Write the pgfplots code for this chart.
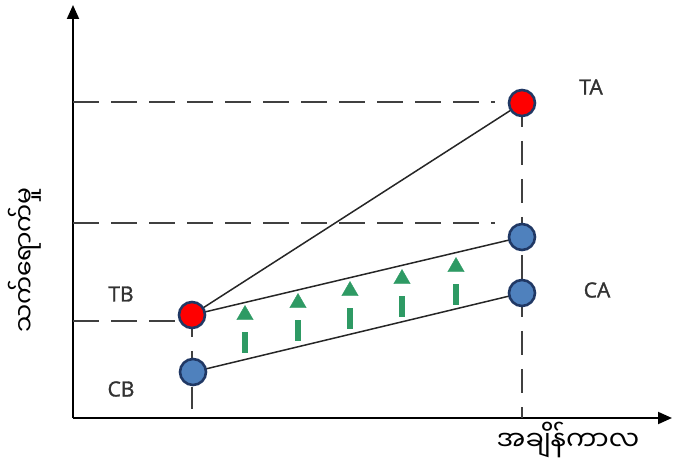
\documentclass[border=0pt]{standalone}
\usepackage{pgfplots}
\pgfplotsset{compat=1.18}
\usetikzlibrary{arrows.meta}
\usepackage{fontspec}
\setmainfont{Open Sans}
\newfontfamily\lblfont[FakeBold=1.4]{Open Sans}
\newfontfamily\mmfont[Script=Myanmar]{Noto Sans Myanmar UI}

\definecolor{ptnavy}{RGB}{32,56,100}
\definecolor{ptblue}{RGB}{79,129,189}
\definecolor{ptred}{RGB}{255,0,0}
\definecolor{ptgreen}{RGB}{46,154,100}
\definecolor{dashgray}{RGB}{64,64,64}
\definecolor{txtgray}{RGB}{50,50,50}

\tikzset{
  guide/.style={dashgray, line width=1.6pt, dash pattern=on 26pt off 12pt},
  link/.style={black!85, line width=1.5pt},
  stem/.style={ptgreen, line width=6pt},
  lbl/.style={font=\lblfont\fontsize{21}{24}\selectfont, text=txtgray},
}

\begin{document}
\begin{tikzpicture}
\begin{axis}[
  x=1pt, y=1pt,
  xmin=0, xmax=599, ymin=0, ymax=413,
  axis lines=left,
  axis line style={line width=2pt, -{Triangle[length=14pt,width=12pt]}},
  xtick=\empty, ytick=\empty,
  clip=false,
]
% dashed guide lines
\addplot[guide] coordinates {(0,316) (422,316)};
\addplot[guide] coordinates {(0,195) (422,195)};
\addplot[guide] coordinates {(0,97) (108,97)};
\addplot[guide, dash pattern=on 22pt off 14pt] coordinates {(119,103) (119,0)};
\addplot[guide, dash pattern=on 24pt off 14pt] coordinates {(449,315) (449,0)};

% connecting lines
\addplot[link] coordinates {(119,103) (449,315)};
\addplot[link] coordinates {(119,103) (449,181)};
\addplot[link] coordinates {(120,46) (449,125)};

% green arrows: stems and heads
\addplot[stem] coordinates {(172,65) (172,86)};
\addplot[stem] coordinates {(225,77) (225,98)};
\addplot[stem] coordinates {(277,89) (277,110)};
\addplot[stem] coordinates {(329,101) (329,122)};
\addplot[stem] coordinates {(383,113) (383,134)};
\addplot[only marks, mark=triangle*, mark size=9.5pt,
  mark options={fill=ptgreen, draw=ptgreen, line width=0.4pt}]
  coordinates {(172,103) (225,115) (277,127) (329,139) (383,151)};

% points
\addplot[only marks, mark=*, mark size=13pt,
  mark options={fill=ptblue, draw=ptnavy, line width=2.6pt}]
  coordinates {(120,46) (449,181) (449,125)};
\addplot[only marks, mark=*, mark size=13pt,
  mark options={fill=ptred, draw=ptnavy, line width=2.6pt}]
  coordinates {(119,103) (449,315)};

% labels
\node[lbl] at (axis cs:518,331) {TA};
\node[lbl] at (axis cs:48,124) {TB};
\node[lbl] at (axis cs:524,128) {CA};
\node[lbl] at (axis cs:48,29) {CB};
\node[font=\mmfont\fontsize{27}{30}\selectfont] at (axis cs:495,-22) {အချိန်ကာလ};
\node[font=\mmfont\fontsize{25}{28}\selectfont, rotate=90] at (axis cs:-48,158) {သက်ရောက်မှု};
\coordinate (O) at (axis cs:0,0);
\end{axis}
\pgfresetboundingbox
\useasboundingbox ([shift={(-73pt,-55pt)}]O) rectangle ([shift={(603pt,418pt)}]O);
\end{tikzpicture}
\end{document}
